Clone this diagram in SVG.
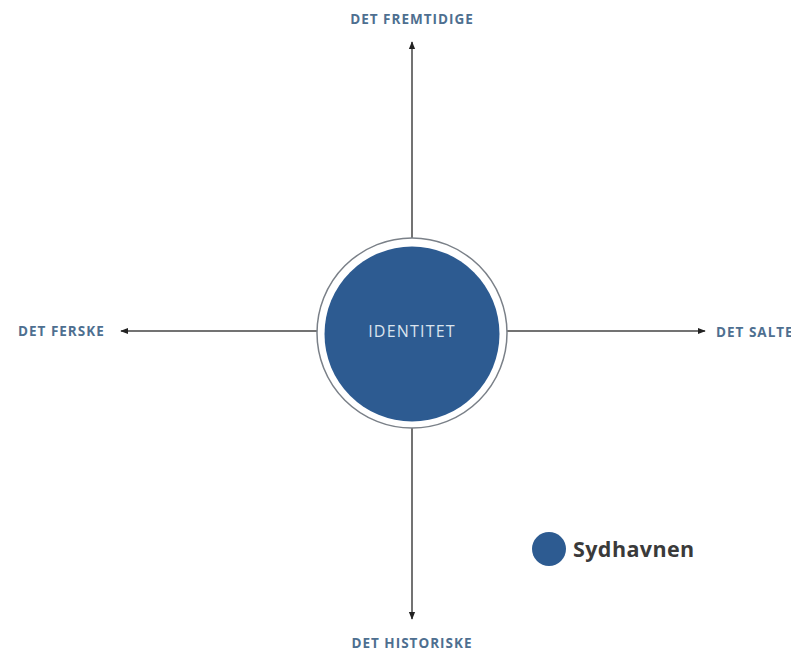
<svg xmlns="http://www.w3.org/2000/svg" width="791" height="651" viewBox="0 0 791 651">
<style>
.lbl{font-family:"Open Sans","Liberation Sans",sans-serif;font-weight:700;font-size:13.5px;fill:#4e6f90;letter-spacing:1px}
.ax{stroke:#444;stroke-width:1.5;fill:none}
</style>
<defs>
<marker id="ah" viewBox="0 0 10 10" refX="9" refY="5" markerWidth="8" markerHeight="8" orient="auto-start-reverse" markerUnits="userSpaceOnUse">
<path d="M0,1 L10,5 L0,9 z" fill="#222"/>
</marker>
</defs>
<rect width="791" height="651" fill="#fff"/>
<g id="connectors">
<line class="ax" x1="412" y1="238" x2="412" y2="42" marker-end="url(#ah)"/>
<line class="ax" x1="412" y1="428" x2="412" y2="619" marker-end="url(#ah)"/>
<line class="ax" x1="317" y1="331" x2="121" y2="331" marker-end="url(#ah)"/>
<line class="ax" x1="507" y1="331" x2="705" y2="331" marker-end="url(#ah)"/>
</g>
<g id="identitet">
<circle cx="412" cy="333" r="95" fill="#fff" stroke="#7a8088" stroke-width="1.5"/>
<circle cx="412" cy="334" r="87.5" fill="#2d5b91"/>
<text x="412" y="337" text-anchor="middle" font-family="'Open Sans','Liberation Sans',sans-serif" font-size="16" fill="#dbe4ee" letter-spacing="1.2">IDENTITET</text>
</g>
<g id="fremtidige"><text class="lbl" x="412" y="24" text-anchor="middle">DET FREMTIDIGE</text></g>
<g id="ferske"><text class="lbl" x="18" y="336">DET FERSKE</text></g>
<g id="salte"><text class="lbl" x="716" y="337">DET SALTE</text></g>
<g id="historiske"><text class="lbl" x="412" y="648" text-anchor="middle">DET HISTORISKE</text></g>
<g id="legend">
<circle cx="549" cy="549" r="17" fill="#2d5b91"/>
<text x="573" y="557" font-family="'Open Sans','Liberation Sans',sans-serif" font-weight="700" font-size="21.5" fill="#3a3a3a" letter-spacing="0.4">Sydhavnen</text>
</g>
</svg>
